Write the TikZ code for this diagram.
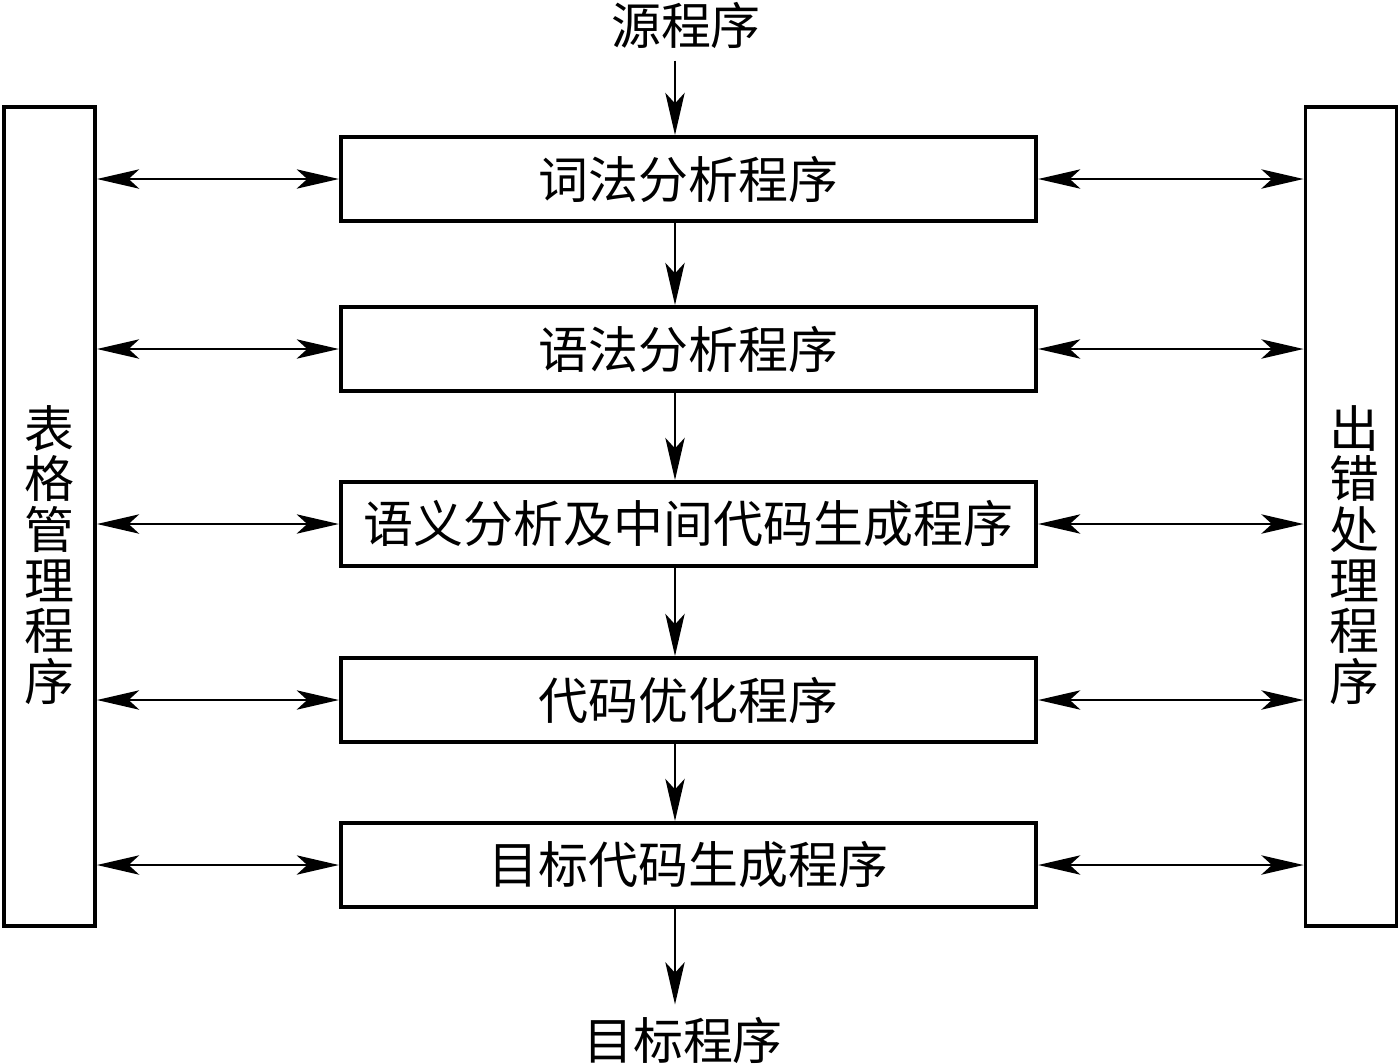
\documentclass[tikz,border=0pt]{standalone}
\usepackage{fontspec}
\newfontfamily\cjk{Noto Sans CJK SC}
\usetikzlibrary{arrows.meta}
\tikzset{
  prog/.style={draw,line width=1.1pt,minimum width=6.95cm,minimum height=0.84cm,inner sep=0pt},
  side/.style={draw,line width=1.1pt,minimum width=0.91cm,minimum height=8.19cm,inner sep=0pt},
  arr/.style={line width=0.6pt,-{Stealth[length=12pt,width=5.5pt,inset=3pt]}},
  darr/.style={line width=0.6pt,{Stealth[length=12pt,width=5.5pt,inset=3pt]}-{Stealth[length=12pt,width=5.5pt,inset=3pt]}},
}
\begin{document}
\begin{tikzpicture}[x=0.01cm,y=-0.01cm,font=\cjk\fontsize{14.2pt}{14.4pt}\selectfont,line cap=butt,line join=miter]
  \useasboundingbox (0,0) rectangle (1400,1063);
  % programs in the middle
  \node[prog] (lex) at (688.5,179) {词法分析程序};
  \node[prog] (syn) at (688.5,349) {语法分析程序};
  \node[prog] (sem) at (688.5,524) {语义分析及中间代码生成程序};
  \node[prog] (opt) at (688.5,700) {代码优化程序};
  \node[prog] (gen) at (688.5,865) {目标代码生成程序};
  % the two side boxes
  \node[side] (tab) at (49.5,516.5) {};
  \node[side] (err) at (1351,516.5) {};
  \node[align=center] (tabtxt) at (49.5,555) {表\\格\\管\\理\\程\\序};
  \node[align=center] (errtxt) at (1354,555) {出\\错\\处\\理\\程\\序};
  % input and output
  \node (src) at (686,25) {源程序};
  \node (dst) at (683,1040) {目标程序};
  \coordinate (col) at (675,0);
  \draw[arr] (src.south -| col) -- (lex.north -| col);
  \draw[arr] (lex.south -| col) -- (syn.north -| col);
  \draw[arr] (syn.south -| col) -- (sem.north -| col);
  \draw[arr] (sem.south -| col) -- (opt.north -| col);
  \draw[arr] (opt.south -| col) -- (gen.north -| col);
  \draw[arr] (gen.south -| col) -- (dst.north -| col);
  % links to the side boxes
  \foreach \p in {lex,syn,sem,opt,gen}{
    \draw[darr] (\p.west -| tab.east) -- (\p.west);
    \draw[darr] (\p.east) -- (\p.east -| err.west);
  }
\end{tikzpicture}
\end{document}
